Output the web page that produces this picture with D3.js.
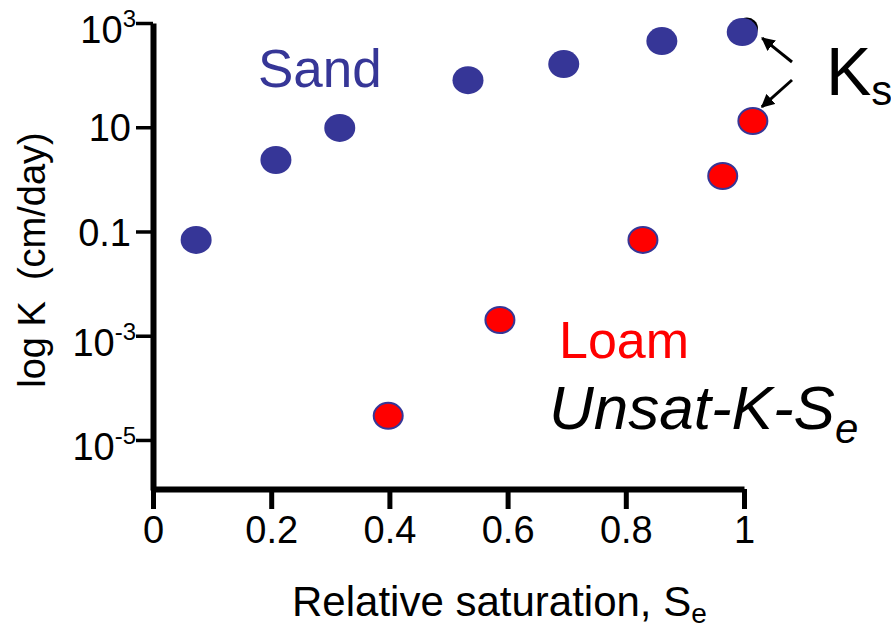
<!DOCTYPE html>
<html>
<head>
<meta charset="utf-8">
<script src="https://cdn.jsdelivr.net/npm/d3@7"></script>
<style>
  html, body { margin: 0; padding: 0; background: #fff; }
  svg { display: block; font-family: Arial, "Liberation Sans", Helvetica, sans-serif; }
</style>
</head>
<body>
<svg id="chart" width="891" height="628"></svg>
<script>
// Relative saturation (Se) and hydraulic conductivity K (cm/day)
const sandSe = [0.073, 0.208, 0.316, 0.533, 0.695, 0.861, 0.997];
const sandK  = [0.069, 2.35, 9.7, 80, 163, 450, 670];
const loamSe = [0.398, 0.587, 0.829, 0.964, 1.015];
const loamK  = [2.9e-5, 0.002, 0.069, 1.16, 13.2];
// saturated-K marker sitting behind the last sand point
const satSe = [1.005];
const satK  = [800];

const xTicks = [0, 0.2, 0.4, 0.6, 0.8, 1];
const xTickLabels = ["0", "0.2", "0.4", "0.6", "0.8", "1"];
const yTicks = [1e-5, 1e-3, 1e-1, 10, 1e3];
const yTickLabels = [["10", "-5"], ["10", "-3"], ["0.1", ""], ["10", ""], ["10", "3"]];

const blue = "#363697";
const red = "#ff0000";

const svg = d3.select("#chart");

const x = d3.scaleLinear().domain([0, 1]).range([153, 744]);
// log axis runs a little below 10^-5 to meet the x axis
const y = d3.scaleLog().domain([Math.pow(10, -5.96), 1e3]).range([490, 23]);

// ---- y axis ----
const yAxis = svg.append("g")
  .attr("transform", `translate(${x(0)},0)`)
  .call(d3.axisLeft(y).tickValues(yTicks).tickSize(17).tickSizeOuter(0).tickFormat(""));
yAxis.select(".domain").attr("stroke", "#000").attr("stroke-width", 6);
yAxis.selectAll(".tick line").attr("stroke", "#000").attr("stroke-width", 3.5);
yAxis.selectAll(".tick").each(function(d, i) {
  const lab = yTickLabels[i];
  const t = d3.select(this).append("text")
    .attr("x", lab[1] ? -17 : -22)
    .attr("y", lab[1] ? 6 : 0)
    .attr("dy", "0.36em")
    .attr("text-anchor", "end")
    .attr("fill", "#000")
    .attr("font-size", 38);
  t.append("tspan").text(lab[0]);
  if (lab[1]) {
    t.append("tspan").attr("font-size", 24).attr("dy", -16).text(lab[1]);
  }
});

// ---- x axis ----
const xAxis = svg.append("g")
  .attr("transform", `translate(0,${y.range()[0] - 1})`)
  .call(d3.axisBottom(x).tickValues(xTicks).tickSize(20).tickSizeOuter(0)
    .tickFormat((d, i) => xTickLabels[i]));
xAxis.select(".domain").attr("stroke", "#000").attr("stroke-width", 6);
xAxis.selectAll(".tick line").attr("stroke", "#000").attr("stroke-width", 5);
xAxis.selectAll(".tick text")
  .attr("font-size", 38).attr("fill", "#000").attr("y", 27).attr("dy", "0.71em")
  .attr("font-family", "Arial, 'Liberation Sans', sans-serif");

// ---- axis titles ----
svg.append("text")
  .attr("transform", "translate(45,260) rotate(-90)")
  .attr("text-anchor", "middle")
  .attr("font-size", 38)
  .attr("fill", "#000")
  .attr("xml:space", "preserve")
  .text("log K  (cm/day)");

const xTitle = svg.append("text")
  .attr("x", 292).attr("y", 616)
  .attr("font-size", 42).attr("fill", "#000");
xTitle.append("tspan").text("Relative saturation, S");
xTitle.append("tspan").attr("font-size", 28).attr("dy", 7).text("e");

// ---- points ----
const rx = 15.5, ry = 14;
svg.append("g").selectAll("ellipse").data(satSe).join("ellipse")
  .attr("cx", (d) => x(d)).attr("cy", (d, i) => y(satK[i]))
  .attr("rx", 11).attr("ry", 10.5).attr("fill", "#000");

svg.append("g").selectAll("ellipse").data(sandSe).join("ellipse")
  .attr("cx", (d) => x(d)).attr("cy", (d, i) => y(sandK[i]))
  .attr("rx", rx).attr("ry", ry).attr("fill", blue);

svg.append("g").selectAll("ellipse").data(loamSe).join("ellipse")
  .attr("cx", (d) => x(d)).attr("cy", (d, i) => y(loamK[i]))
  .attr("rx", rx - 1).attr("ry", ry - 1)
  .attr("fill", red).attr("stroke", blue).attr("stroke-width", 2);

// ---- annotations ----
svg.append("text").attr("x", 258).attr("y", 87)
  .attr("font-size", 53).attr("fill", blue).text("Sand");
svg.append("text").attr("x", 559).attr("y", 358)
  .attr("font-size", 52).attr("fill", red).text("Loam");

const uk = svg.append("text").attr("x", 549).attr("y", 429)
  .attr("font-size", 62).attr("font-style", "italic").attr("fill", "#000");
uk.append("tspan").text("Unsat-K-S");
uk.append("tspan").attr("font-size", 42).attr("dy", 14).text("e");

const ks = svg.append("text").attr("x", 826).attr("y", 95)
  .attr("font-size", 68).attr("fill", "#000");
ks.append("tspan").text("K");
ks.append("tspan").attr("font-size", 42).attr("dy", 10).text("s");

// arrows from the Ks label to the saturated points of each soil
const defs = svg.append("defs");
defs.append("marker").attr("id", "head")
  .attr("viewBox", "0 0 10 10").attr("refX", 9).attr("refY", 5)
  .attr("markerWidth", 4.5).attr("markerHeight", 4.5).attr("orient", "auto")
  .append("path").attr("d", "M0,0 L10,5 L0,10 Z").attr("fill", "#000");

const arrowTargets = [
  { se: sandSe[sandSe.length - 1], k: sandK[sandK.length - 1], dx: 20, dy: 6 },
  { se: loamSe[loamSe.length - 1], k: loamK[loamK.length - 1], dx: 9, dy: -14 }
];
const arrowStarts = [[792, 62], [792, 80]];
svg.append("g").selectAll("line").data(arrowTargets).join("line")
  .attr("x1", (d, i) => arrowStarts[i][0]).attr("y1", (d, i) => arrowStarts[i][1])
  .attr("x2", d => x(d.se) + d.dx).attr("y2", d => y(d.k) + d.dy)
  .attr("stroke", "#000").attr("stroke-width", 3)
  .attr("marker-end", "url(#head)");
</script>
</body>
</html>
